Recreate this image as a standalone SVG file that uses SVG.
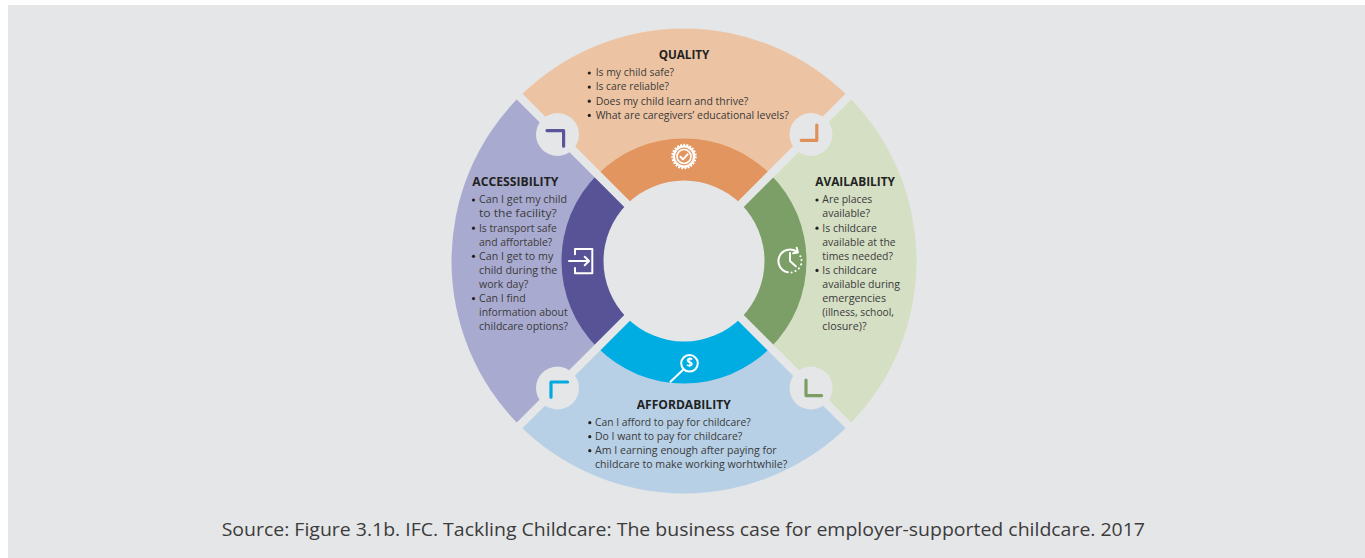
<svg xmlns="http://www.w3.org/2000/svg" width="1365" height="558" viewBox="0 0 1365 558">
<style>
.bg{fill:#e5e6e8}
.gap{stroke:#e5e6e8;stroke-width:8;fill:none}
.h{font-family:"Open Sans","Liberation Sans",sans-serif;font-weight:700;font-size:12px;fill:#222}
.t{font-family:"Open Sans","Liberation Sans",sans-serif;font-size:10.5px;fill:#3a3a3a}
.bl{fill:#222}
.src{font-family:"Open Sans","Liberation Sans",sans-serif;font-size:18.5px;fill:#3b3b3b}
.ic{stroke:#fff;fill:none;stroke-width:2;stroke-linecap:round;stroke-linejoin:round}
.br{fill:none;stroke-width:3.2;stroke-linecap:round;stroke-linejoin:round}
</style>
<rect x="8" y="5" width="1357" height="553" class="bg"/>

<g id="node-quality">
<path d="M684,261 L519.6,96.6 A232.5,232.5 0 0 1 848.4,96.6 Z" fill="#edc4a3"/>
<path d="M684,261 L597.38,174.38 A122.5,122.5 0 0 1 770.62,174.38 Z" fill="#e2955f"/>
<g id="icon-quality">
<circle cx="684" cy="156.5" r="11.2" fill="#fff"/>
<circle cx="684" cy="156.5" r="11.4" fill="none" stroke="#fff" stroke-width="2.6" stroke-dasharray="1.8 1.3"/>
<circle cx="684" cy="156.5" r="9" fill="#e2955f"/>
<circle cx="684" cy="156.5" r="7" fill="none" stroke="#fff" stroke-width="1.7"/>
<path d="M680.4,156.8 L683,159.4 L687.6,154.3" class="ic" stroke-width="1.9"/>
</g>
<text x="684" y="59.3" class="h" text-anchor="middle" textLength="50.7" lengthAdjust="spacingAndGlyphs">QUALITY</text>
<circle cx="589.3" cy="73" r="1.6" class="bl"/>
<text x="595.7" y="76.3" class="t" textLength="78.3" lengthAdjust="spacingAndGlyphs">Is my child safe?</text>
<circle cx="589.3" cy="87.1" r="1.6" class="bl"/>
<text x="595.7" y="90.4" class="t" textLength="73.3" lengthAdjust="spacingAndGlyphs">Is care reliable?</text>
<circle cx="589.3" cy="101.2" r="1.6" class="bl"/>
<text x="595.7" y="104.5" class="t" textLength="152.6" lengthAdjust="spacingAndGlyphs">Does my child learn and thrive?</text>
<circle cx="589.3" cy="115.4" r="1.6" class="bl"/>
<text x="595.7" y="118.7" class="t" textLength="193" lengthAdjust="spacingAndGlyphs">What are caregivers’ educational levels?</text>
</g>

<g id="node-availability">
<path d="M684,261 L848.4,96.6 A232.5,232.5 0 0 1 848.4,425.4 Z" fill="#d5dfc4"/>
<path d="M684,261 L770.62,174.38 A122.5,122.5 0 0 1 770.62,347.62 Z" fill="#7b9f66"/>
<g id="icon-availability">
<path d="M787.9,272.3 A11.5,11.5 0 1 1 796.6,251.6" class="ic" stroke-width="1.9"/>
<path d="M796.7,247.7 L797.9,252.6 L793.1,253.2" class="ic" stroke-width="1.9"/>
<circle cx="800.4" cy="256.2" r="1.05" fill="#fff"/>
<circle cx="801.5" cy="260.1" r="1.05" fill="#fff"/>
<circle cx="801.1" cy="264.4" r="1.05" fill="#fff"/>
<circle cx="798.8" cy="268.4" r="1.05" fill="#fff"/>
<circle cx="795.5" cy="271.1" r="1.05" fill="#fff"/>
<circle cx="791.6" cy="272.5" r="1.05" fill="#fff"/>
<path d="M790,253 V261 L795.8,266.3" class="ic" stroke-width="1.9"/>
</g>
<text x="815.3" y="185.7" class="h" textLength="79.7" lengthAdjust="spacingAndGlyphs">AVAILABILITY</text>
<circle cx="817" cy="200" r="1.6" class="bl"/>
<text x="822.3" y="203.3" class="t" textLength="50" lengthAdjust="spacingAndGlyphs">Are places</text>
<text x="822.3" y="217.4" class="t" textLength="47.7" lengthAdjust="spacingAndGlyphs">available?</text>
<circle cx="817" cy="228.2" r="1.6" class="bl"/>
<text x="822.3" y="231.5" class="t" textLength="54.7" lengthAdjust="spacingAndGlyphs">Is childcare</text>
<text x="822.3" y="245.5" class="t" textLength="73.3" lengthAdjust="spacingAndGlyphs">available at the</text>
<text x="822.3" y="259.6" class="t" textLength="70.7" lengthAdjust="spacingAndGlyphs">times needed?</text>
<circle cx="817" cy="270.4" r="1.6" class="bl"/>
<text x="822.3" y="273.7" class="t" textLength="54.7" lengthAdjust="spacingAndGlyphs">Is childcare</text>
<text x="822.3" y="287.8" class="t" textLength="77.7" lengthAdjust="spacingAndGlyphs">available during</text>
<text x="822.3" y="301.9" class="t" textLength="63.7" lengthAdjust="spacingAndGlyphs">emergencies</text>
<text x="822.3" y="315.9" class="t" textLength="71.7" lengthAdjust="spacingAndGlyphs">(illness, school,</text>
<text x="822.3" y="330" class="t" textLength="44.3" lengthAdjust="spacingAndGlyphs">closure)?</text>
</g>

<g id="node-affordability">
<path d="M684,261 L848.4,425.4 A232.5,232.5 0 0 1 519.6,425.4 Z" fill="#b7d0e6"/>
<path d="M684,261 L770.62,347.62 A122.5,122.5 0 0 1 597.38,347.62 Z" fill="#00ade3"/>
<g id="icon-affordability">
<circle cx="689.5" cy="363.3" r="8.3" class="ic" stroke-width="1.9"/>
<text x="689.5" y="367.4" text-anchor="middle" font-family="'Open Sans','Liberation Sans',sans-serif" font-weight="700" font-size="11.5" fill="#fff">$</text>
<path d="M683.6,369.2 L670.5,381.8" class="ic" stroke-width="3"/>
</g>
<text x="683.7" y="409" class="h" text-anchor="middle" textLength="94" lengthAdjust="spacingAndGlyphs">AFFORDABILITY</text>
<circle cx="589.8" cy="422.7" r="1.6" class="bl"/>
<text x="595" y="426" class="t" textLength="155.7" lengthAdjust="spacingAndGlyphs">Can I afford to pay for childcare?</text>
<circle cx="589.8" cy="436.7" r="1.6" class="bl"/>
<text x="595" y="440" class="t" textLength="147.3" lengthAdjust="spacingAndGlyphs">Do I want to pay for childcare?</text>
<circle cx="589.8" cy="450.7" r="1.6" class="bl"/>
<text x="595" y="454" class="t" textLength="181.7" lengthAdjust="spacingAndGlyphs">Am I earning enough after paying for</text>
<text x="595" y="468" class="t" textLength="192.3" lengthAdjust="spacingAndGlyphs">childcare to make working worhtwhile?</text>
</g>

<g id="node-accessibility">
<path d="M684,261 L519.6,425.4 A232.5,232.5 0 0 1 519.6,96.6 Z" fill="#a9aad0"/>
<path d="M684,261 L597.38,347.62 A122.5,122.5 0 0 1 597.38,174.38 Z" fill="#575396"/>
<g id="icon-accessibility">
<path d="M575,254.3 V249 H592.3 V273.3 H575 V268" class="ic"/>
<path d="M569,261 H589 M584.7,256.7 L589,261 L584.7,265.3" class="ic"/>
</g>
<text x="472.3" y="185.7" class="h" textLength="86" lengthAdjust="spacingAndGlyphs">ACCESSIBILITY</text>
<circle cx="473.5" cy="200" r="1.6" class="bl"/>
<text x="479" y="203.3" class="t" textLength="88" lengthAdjust="spacingAndGlyphs">Can I get my child</text>
<text x="479" y="217.4" class="t" textLength="77.7" lengthAdjust="spacingAndGlyphs">to the facility?</text>
<circle cx="473.5" cy="228.2" r="1.6" class="bl"/>
<text x="479" y="231.5" class="t" textLength="77.7" lengthAdjust="spacingAndGlyphs">Is transport safe</text>
<text x="479" y="245.5" class="t" textLength="73.3" lengthAdjust="spacingAndGlyphs">and affortable?</text>
<circle cx="473.5" cy="256.3" r="1.6" class="bl"/>
<text x="479" y="259.6" class="t" textLength="74.3" lengthAdjust="spacingAndGlyphs">Can I get to my</text>
<text x="479" y="273.7" class="t" textLength="78.3" lengthAdjust="spacingAndGlyphs">child during the</text>
<text x="479" y="287.8" class="t" textLength="49.3" lengthAdjust="spacingAndGlyphs">work day?</text>
<circle cx="473.5" cy="298.6" r="1.6" class="bl"/>
<text x="479" y="301.9" class="t" textLength="46.7" lengthAdjust="spacingAndGlyphs">Can I find</text>
<text x="479" y="315.9" class="t" textLength="88.7" lengthAdjust="spacingAndGlyphs">information about</text>
<text x="479" y="330" class="t" textLength="89" lengthAdjust="spacingAndGlyphs">childcare options?</text>
</g>

<g id="separators">
<path d="M444,21 L924,501 M924,21 L444,501" class="gap"/>
<circle cx="684" cy="261" r="80.5" class="bg"/>
</g>

<g id="connectors">
<circle cx="557.5" cy="134.5" r="21.5" class="bg"/>
<circle cx="811" cy="134.5" r="21.5" class="bg"/>
<circle cx="557.5" cy="388" r="21.5" class="bg"/>
<circle cx="811" cy="388" r="21.5" class="bg"/>
<polyline points="547,130.6 563.6,130.6 563.6,146.2" class="br" stroke="#5a5499"/>
<polyline points="816.8,125 816.8,140.4 801.2,140.4" class="br" stroke="#e0915a"/>
<polyline points="567.6,382 551,382 551,397.2" class="br" stroke="#00a9e0"/>
<polyline points="806,380.2 806,395.6 821.6,395.6" class="br" stroke="#7a9e64"/>
</g>

<text x="221.7" y="536" class="src" textLength="923.3" lengthAdjust="spacingAndGlyphs">Source: Figure 3.1b. IFC. Tackling Childcare: The business case for employer-supported childcare. 2017</text>
</svg>
